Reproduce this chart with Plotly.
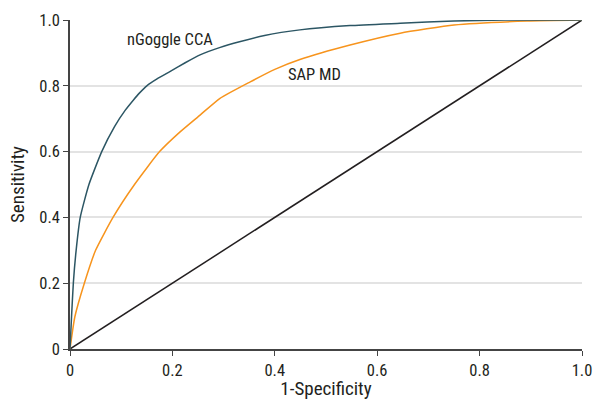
import plotly.graph_objects as go

cca_x = [0, 0.003, 0.0065, 0.012, 0.02, 0.037, 0.062, 0.087, 0.108, 0.124, 0.135, 0.15, 0.17, 0.195, 0.225, 0.254, 0.292, 0.331, 0.38, 0.449, 0.547, 0.645, 0.75, 0.85, 1.0]
cca_y = [0, 0.098, 0.2, 0.3, 0.4, 0.5, 0.6, 0.676, 0.726, 0.757, 0.777, 0.8, 0.821, 0.843, 0.87, 0.894, 0.916, 0.934, 0.953, 0.97, 0.983, 0.99, 0.997, 1.0, 1.0]

sap_x = [0, 0.0095, 0.028, 0.05, 0.084, 0.126, 0.175, 0.215, 0.254, 0.293, 0.352, 0.40, 0.449, 0.547, 0.645, 0.75, 0.893, 1.0]
sap_y = [0, 0.098, 0.2, 0.3, 0.4, 0.5, 0.6, 0.66, 0.711, 0.762, 0.812, 0.85, 0.88, 0.924, 0.96, 0.985, 0.997, 1.0]

ref_x = [0, 1]
ref_y = [0, 1]

tick_vals = [0, 0.2, 0.4, 0.6, 0.8, 1.0]
tick_text = ["0", "0.2", "0.4", "0.6", "0.8", "1.0"]

FONT = "Liberation Sans Narrow, Roboto Condensed, Arial Narrow, Roboto, sans-serif"

fig = go.Figure()
fig.add_trace(go.Scatter(x=ref_x, y=ref_y, mode="lines", line=dict(color="#231f20", width=1.5), showlegend=False, hoverinfo="skip"))
fig.add_trace(go.Scatter(x=sap_x, y=sap_y, mode="lines", line=dict(color="#f7941d", width=1.5, shape="spline", smoothing=0.5), showlegend=False))
fig.add_trace(go.Scatter(x=cca_x, y=cca_y, mode="lines", line=dict(color="#2c5664", width=1.5, shape="spline", smoothing=0.5), showlegend=False))

fig.add_annotation(x=0.195, y=0.942, text="nGoggle CCA", showarrow=False, font=dict(size=16.5, color="#231f20", family=FONT))
fig.add_annotation(x=0.478, y=0.833, text="SAP MD", showarrow=False, font=dict(size=16.5, color="#231f20", family=FONT))

fig.update_layout(
    width=594, height=400,
    margin=dict(l=70, r=12, t=20, b=51, autoexpand=False),
    plot_bgcolor="white", paper_bgcolor="white",
    font=dict(family=FONT, size=15.5, color="#231f20"),
)
fig.update_xaxes(
    range=[0, 1], tickvals=tick_vals, ticktext=tick_text, showgrid=False, zeroline=False, automargin=False,
    showline=True, linecolor="#444444", linewidth=1.5, ticks="outside", ticklen=5, tickcolor="#444444",
    tickfont=dict(size=16.5), ticklabeloverflow="allow",
    title=dict(text="1-Specificity", standoff=6), fixedrange=True,
)
fig.update_yaxes(
    range=[0, 1], tickvals=tick_vals, ticktext=tick_text, showgrid=True, gridcolor="#e3e3e3", gridwidth=1.5,
    zeroline=False, showline=True, linecolor="#444444", linewidth=1.5, ticks="outside", ticklen=5, tickcolor="#444444",
    tickfont=dict(size=16.5), ticklabeloverflow="allow",
    automargin=False, title=dict(text="Sensitivity", standoff=10), fixedrange=True,
)

# remove the browser's default 8px body margin so the 594x400 figure fills the window exactly
fig.write_html(
    "out.html",
    config={"displayModeBar": False},
    post_script="document.body.style.margin='0';document.body.style.overflow='hidden';",
)
